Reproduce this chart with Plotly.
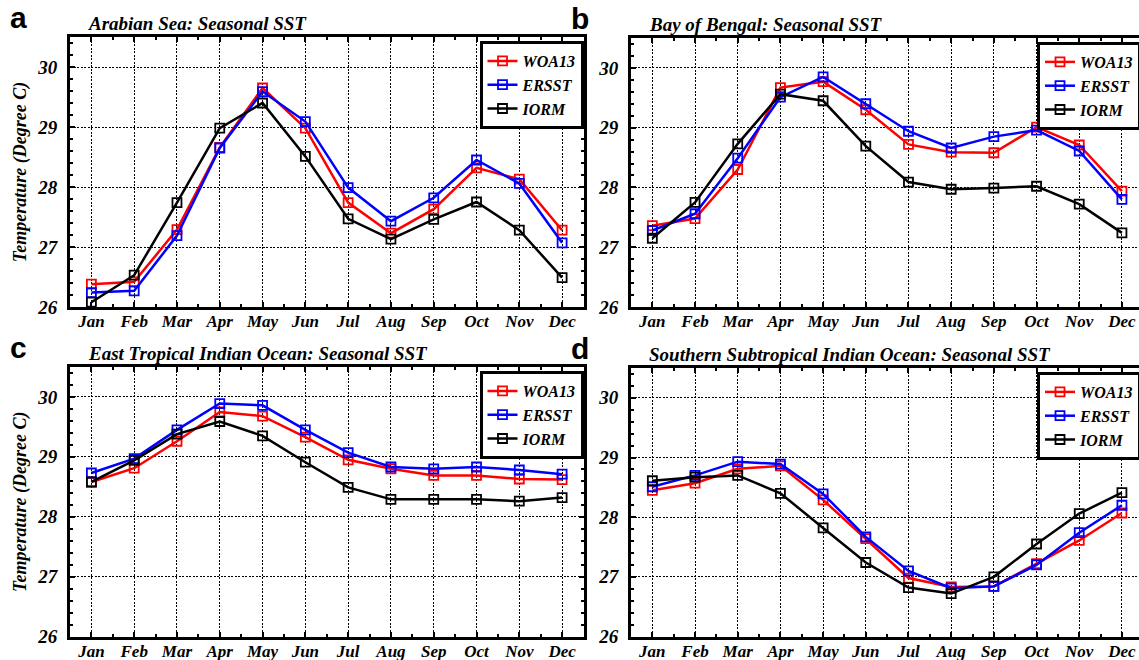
import plotly.graph_objects as go

months = ["Jan", "Feb", "Mar", "Apr", "May", "Jun", "Jul", "Aug", "Sep", "Oct", "Nov", "Dec"]
month_num = list(range(1, 13))
series_names = ["WOA13", "ERSST", "IORM"]
series_colors = ["#ff0000", "#0000ff", "#000000"]

panel_letters = ["a", "b", "c", "d"]
panel_titles = [
    "Arabian Sea: Seasonal SST",
    "Bay of Bengal: Seasonal SST",
    "East Tropical Indian Ocean: Seasonal SST",
    "Southern Subtropical Indian Ocean: Seasonal SST",
]

# Panel a: Arabian Sea
a_woa13 = [26.38, 26.42, 27.29, 28.66, 29.65, 28.98, 27.74, 27.23, 27.63, 28.32, 28.13, 27.28]
a_ersst = [26.24, 26.27, 27.19, 28.65, 29.59, 29.09, 27.99, 27.43, 27.82, 28.45, 28.06, 27.07]
a_iorm = [26.08, 26.53, 27.74, 28.98, 29.40, 28.51, 27.47, 27.13, 27.46, 27.75, 27.28, 26.49]

# Panel b: Bay of Bengal
b_woa13 = [27.36, 27.48, 28.30, 29.67, 29.77, 29.30, 28.72, 28.59, 28.58, 29.01, 28.71, 27.94]
b_ersst = [27.28, 27.56, 28.49, 29.51, 29.85, 29.40, 28.94, 28.66, 28.85, 28.96, 28.61, 27.80]
b_iorm = [27.15, 27.75, 28.73, 29.56, 29.45, 28.69, 28.09, 27.97, 27.99, 28.02, 27.72, 27.24]

# Panel c: East Tropical Indian Ocean
c_woa13 = [28.58, 28.81, 29.26, 29.75, 29.68, 29.33, 28.95, 28.80, 28.69, 28.69, 28.63, 28.62]
c_ersst = [28.73, 28.97, 29.45, 29.89, 29.86, 29.45, 29.07, 28.83, 28.80, 28.83, 28.78, 28.71]
c_iorm = [28.58, 28.94, 29.38, 29.59, 29.35, 28.91, 28.49, 28.29, 28.29, 28.29, 28.26, 28.32]

# Panel d: Southern Subtropical Indian Ocean
d_woa13 = [28.45, 28.57, 28.81, 28.86, 28.29, 27.64, 26.98, 26.83, 26.84, 27.22, 27.61, 28.07]
d_ersst = [28.51, 28.70, 28.93, 28.89, 28.39, 27.67, 27.10, 26.81, 26.84, 27.20, 27.74, 28.20]
d_iorm = [28.61, 28.67, 28.70, 28.40, 27.82, 27.24, 26.82, 26.72, 27.00, 27.55, 28.06, 28.41]

panel_data = [
    [a_woa13, a_ersst, a_iorm],
    [b_woa13, b_ersst, b_iorm],
    [c_woa13, c_ersst, c_iorm],
    [d_woa13, d_ersst, d_iorm],
]

ytick_vals = [26, 27, 28, 29, 30]

W, H = 1139, 660
SERIF = "Liberation Serif, Times New Roman, serif"

# panel geometry in pixels: (left, right, top, bottom, xmax)
geom = [
    (70, 583.5, 37, 307, 12.5),
    (631, 1139, 38, 307, 12.4),
    (70, 583.5, 367, 636.5, 12.5),
    (631, 1139, 368, 636.5, 12.4),
]

fig = go.Figure()
legend_names = ["legend", "legend2", "legend3", "legend4"]

for p in range(4):
    ax = "" if p == 0 else str(p + 1)
    for s in range(3):
        fig.add_trace(go.Scatter(
            x=month_num, y=panel_data[p][s], name=series_names[s],
            mode="lines+markers",
            line=dict(color=series_colors[s], width=2.5),
            marker=dict(symbol="square-open", size=9, color=series_colors[s],
                        line=dict(width=1.8, color=series_colors[s])),
            xaxis="x" + ax, yaxis="y" + ax,
            legend=legend_names[p],
        ))

layout = dict(
    width=W, height=H,
    margin=dict(l=0, r=0, t=0, b=0, autoexpand=False),
    plot_bgcolor="white", paper_bgcolor="white",
    font=dict(family=SERIF, color="black"),
    showlegend=True,
)

annotations = []
for p in range(4):
    left, right, top, bottom, xmax = geom[p]
    ax = "" if p == 0 else str(p + 1)
    xdom = [left / W, min(right / W, 1.0)]
    ydom = [(H - bottom) / H, (H - top) / H]
    right_side = p in (0, 2)
    layout["xaxis" + ax] = dict(
        domain=xdom, anchor="y" + ax, range=[0.5, xmax],
        tickmode="array", tickvals=month_num, ticktext=months,
        showgrid=True, gridcolor="black", gridwidth=1.2, griddash="2px,1.5px",
        showline=True, linecolor="black", linewidth=3, mirror="ticks",
        ticks="inside", ticklen=5, tickwidth=2, tickcolor="black",
        minor=dict(tickmode="array", tickvals=[m + 0.5 for m in range(0, 13)],
                   ticks="inside", ticklen=3, tickwidth=2, tickcolor="black", showgrid=False),
        tickfont=dict(family=SERIF, size=17, color="black", weight="bold", style="italic"),
        ticklabelstandoff=-3,
        zeroline=False, fixedrange=True,
    )
    layout["yaxis" + ax] = dict(
        domain=ydom, anchor="x" + ax, range=[26, 30.5],
        tickmode="array", tickvals=ytick_vals,
        showgrid=True, gridcolor="black", gridwidth=1.2, griddash="2px,1.5px",
        showline=True, linecolor="black", linewidth=3,
        mirror="ticks" if right_side else False,
        ticks="inside", ticklen=5, tickwidth=2, tickcolor="black",
        minor=dict(tickmode="linear", tick0=26, dtick=0.2, ticks="inside", ticklen=3,
                   tickwidth=2, tickcolor="black", showgrid=False),
        tickfont=dict(family=SERIF, size=19, color="black", weight="bold", style="italic"),
        ticklabelstandoff=6,
        zeroline=False, fixedrange=True,
    )
    if p in (0, 2):
        layout["yaxis" + ax]["title"] = dict(
            text="Temperature (Degree C)", standoff=6,
            font=dict(family=SERIF, size=18, color="black", weight="bold", style="italic"))

    # legend
    layout[legend_names[p]] = dict(
        x=(right if right_side else 1037) / W,
        xanchor="right" if right_side else "left",
        y=(H - top - 4) / H, yanchor="top",
        bgcolor="white", bordercolor="black", borderwidth=3,
        font=dict(family=SERIF, size=16, color="black", weight="bold", style="italic"),
        tracegroupgap=0, itemwidth=30,
    )

    # title and letter
    annotations.append(dict(
        text=panel_titles[p], xref="paper", yref="paper",
        x=(left + 16) / W, y=(H - top + 1) / H, xanchor="left", yanchor="bottom",
        showarrow=False,
        font=dict(family=SERIF, size=19, color="black", weight="bold", style="italic"),
    ))
    annotations.append(dict(
        text=panel_letters[p], xref="paper", yref="paper",
        x=(left - 62) / W, y=(H - top + 1) / H, xanchor="left", yanchor="bottom",
        showarrow=False,
        font=dict(family="Liberation Sans, Arial, sans-serif", size=30, color="black", weight="bold"),
    ))

layout["annotations"] = annotations
fig.update_layout(**layout)

fig.write_html("out.html", config={"displayModeBar": False},
               post_script="document.body.style.margin='0';document.body.style.overflow='hidden';")
